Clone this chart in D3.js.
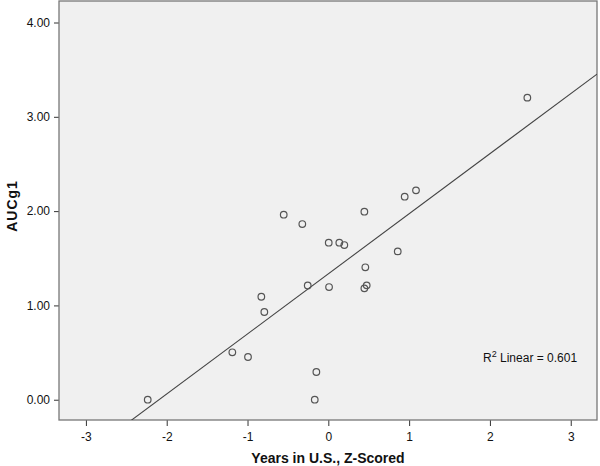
<!DOCTYPE html>
<html><head><meta charset="utf-8">
<script src="https://cdn.jsdelivr.net/npm/d3@7/dist/d3.min.js"></script>
<style>body{margin:0;background:#fff;} text{font-family:"Liberation Sans",Arial,sans-serif;}</style>
</head><body><svg id="c" width="600" height="466"></svg>
<script>
const xValues = [-2.235,-1.188,-0.994,-0.829,-0.792,-0.552,-0.322,-0.255,-0.148,-0.168,0.005,0.009,0.136,0.198,0.446,0.458,0.446,0.475,0.859,0.945,1.085,2.463];
const yValues = [0.00,0.503,0.453,1.092,0.930,1.962,1.863,1.211,0.294,0.00,1.665,1.195,1.665,1.640,1.994,1.404,1.181,1.213,1.573,2.153,2.220,3.203];
const xTicks = [-3,-2,-1,0,1,2,3];
const yTicks = [0,1,2,3,4];
const fitSlope = 0.637, fitIntercept = 1.335;
const xLabel = "Years in U.S., Z-Scored", yLabel = "AUCg1";

const svg = d3.select("#c");
const L=59, R=597, T=1, B=420;
const x = d3.scaleLinear().domain([-3.333,3.325]).range([L,R]);
const y = d3.scaleLinear().domain([-0.215,4.228]).range([B,T]);

svg.append("defs").append("clipPath").attr("id","clip").append("rect").attr("x",L).attr("y",T).attr("width",R-L).attr("height",B-T);
svg.append("rect").attr("x",L).attr("y",T).attr("width",R-L).attr("height",B-T).attr("fill","#f0f0f0");

const xa = svg.append("g").attr("transform",`translate(0,${B})`).call(d3.axisBottom(x).tickValues(xTicks).tickSize(6).tickSizeOuter(0).tickFormat(d=>String(d)));
const ya = svg.append("g").attr("transform",`translate(${L},0)`).call(d3.axisLeft(y).tickValues(yTicks).tickSize(5).tickSizeOuter(0).tickFormat(d=>d.toFixed(2)));
[xa,ya].forEach(a=>{a.select(".domain").remove();a.selectAll(".tick line").attr("stroke","#333");a.selectAll("text").attr("font-size",12).attr("fill","#111").attr("font-family","'Liberation Sans',Arial,sans-serif");});
xa.selectAll("text").attr("dy","1.0em");
ya.selectAll("text").attr("dx","-1");

svg.append("rect").attr("x",L).attr("y",T).attr("width",R-L).attr("height",B-T).attr("fill","none").attr("stroke","#777").attr("stroke-width",1.3);

const xd = x.domain();
svg.append("line").attr("clip-path","url(#clip)")
 .attr("x1",x(xd[0])).attr("y1",y(fitIntercept+fitSlope*xd[0]))
 .attr("x2",x(xd[1])).attr("y2",y(fitIntercept+fitSlope*xd[1]))
 .attr("stroke","#444").attr("stroke-width",1.1);

svg.append("g").selectAll("circle").data(xValues.map((v,i)=>[v,yValues[i]])).join("circle")
 .attr("cx",d=>x(d[0])).attr("cy",d=>y(d[1])).attr("r",3.3)
 .attr("fill","none").attr("stroke","#555").attr("stroke-width",1.2);

const rt = svg.append("text").attr("x",483).attr("y",362).attr("font-size",12).attr("fill","#111");
rt.append("tspan").text("R");
rt.append("tspan").attr("font-size",9).attr("dy",-5).text("2");
rt.append("tspan").attr("dy",5).text(" Linear = 0.601");

svg.append("text").attr("x",328).attr("y",463).attr("text-anchor","middle").attr("font-size",14).attr("font-weight","bold").attr("fill","#111").text(xLabel);
svg.append("text").attr("transform","translate(17,206) rotate(-90)").attr("text-anchor","middle").attr("font-size",14).attr("font-weight","bold").attr("letter-spacing",1).attr("fill","#111").text(yLabel);
</script></body></html>
